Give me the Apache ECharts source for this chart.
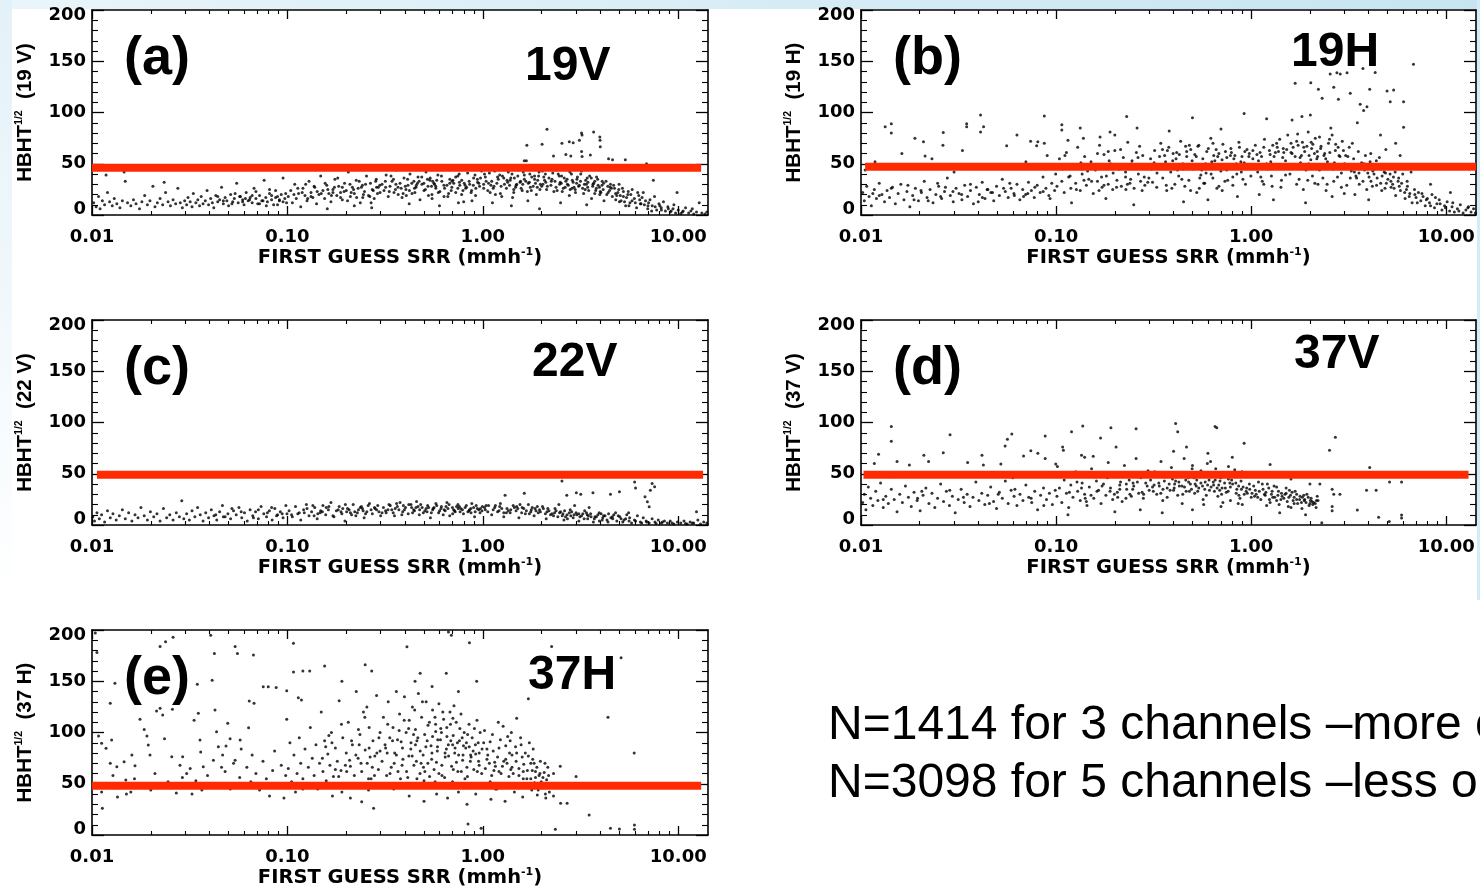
<!DOCTYPE html>
<html><head><meta charset="utf-8">
<script src="https://cdn.jsdelivr.net/npm/echarts@6/dist/echarts.min.js"></script>
<style>html,body{margin:0;padding:0;background:#fff}#c{width:1480px;height:888px}</style>
</head><body><div id="c"></div>
<script>
// ---------------- DATA ----------------
const panelLetters = ['(a)', '(b)', '(c)', '(d)', '(e)'];
const channelNames = ['19V', '19H', '22V', '37V', '37H'];
const yAxisChannels = ['19 V', '19 H', '22 V', '37 V', '37 H'];
const xTickValues = [0.01, 0.1, 1, 10];
const xMinorTickValues = [0.02,0.03,0.04,0.05,0.06,0.07,0.08,0.09,0.2,0.3,0.4,0.5,0.6,0.7,0.8,0.9,2,3,4,5,6,7,8,9];
const thresholdValues = [46, 47, 49, 49, 48];
const thresholdXRanges = [[0.01, 13.1], [0.0105, 14.2], [0.0106, 13.4], [0.0103, 13.0], [0.01, 13.1]];
const notes = ['N=1414 for 3 channels \u2013more c', 'N=3098 for 5 channels \u2013less op'];

const pts19V = [
[0.0102,12],[0.0105,8],[0.0108,18],[0.011,6],[0.0113,14],[0.0116,10],[0.0118,39],[0.012,22],[0.0123,13],[0.0127,9],[0.013,16],[0.0134,11],[0.0139,7],[0.0143,14],[0.0146,42],[0.0148,33],[0.0152,12],[0.0158,9],[0.0163,15],[0.0168,11],[0.0175,6],[0.018,13],[0.0186,19],[0.0192,10],[0.0198,14],[0.0205,28],[0.021,8],[0.0216,12],[0.0223,16],[0.023,10],[0.0234,32],[0.0238,22],[0.0245,13],[0.0252,9],[0.026,15],[0.0268,11],[0.0275,26],[0.0283,12],[0.029,7],[0.0298,14],
[0.0305,10],[0.031,17],[0.0318,13],[0.0325,8],[0.033,21],[0.034,12],[0.0348,15],[0.0355,9],[0.0362,18],[0.037,11],[0.038,14],[0.0388,24],[0.0395,10],[0.0405,16],[0.0413,12],[0.042,7],[0.043,19],[0.044,13],[0.045,15],[0.046,27],[0.047,11],[0.048,17],[0.049,14],[0.05,9],[0.0512,20],[0.0525,13],[0.0535,16],[0.055,31],[0.056,12],[0.0575,18],[0.059,15],[0.06,10],[0.0615,22],[0.063,14],[0.0645,17],[0.066,12],[0.0675,26],[0.069,16],[0.0705,11],[0.072,19],[0.074,14],[0.076,34],[0.0775,17],[0.079,13],[0.081,21],[0.083,15],[0.085,10],[0.087,24],[0.089,18],[0.091,14],[0.093,20],[0.095,36],[0.097,16],[0.099,12],
[0.101,18],[0.104,24],[0.106,12],[0.109,30],[0.111,16],[0.114,21],[0.117,8],[0.12,26],[0.123,19],[0.126,14],[0.129,33],[0.132,22],[0.135,17],[0.138,27],[0.141,11],[0.145,20],[0.148,38],[0.152,24],[0.155,16],[0.159,29],[0.163,21],[0.167,13],[0.171,25],[0.175,35],[0.179,19],[0.183,28],[0.187,22],[0.191,15],[0.196,31],[0.2,24],[0.205,42],[0.21,18],[0.215,27],[0.22,21],[0.225,34],[0.23,26],[0.236,12],[0.242,29],[0.248,23],[0.254,38],[0.26,19],[0.266,31],[0.272,25],[0.278,16],[0.285,35],[0.292,27],[0.298,22],[0.16,6],[0.22,9],[0.27,7],
[0.305,30],[0.312,24],[0.32,39],[0.328,18],[0.335,28],[0.343,33],[0.351,22],[0.36,44],[0.368,27],[0.377,31],[0.386,17],[0.395,36],[0.404,25],[0.414,29],[0.424,40],[0.434,21],[0.444,33],[0.455,27],[0.466,37],[0.477,15],[0.488,30],[0.5,24],[0.512,42],[0.524,28],[0.536,34],[0.549,20],[0.562,31],[0.575,26],[0.589,39],[0.603,23],[0.617,33],[0.632,29],[0.647,45],[0.662,18],[0.678,35],[0.694,27],[0.71,31],[0.727,22],[0.744,38],[0.762,29],[0.78,34],[0.798,13],[0.817,26],[0.836,41],[0.856,30],[0.876,24],[0.897,36],[0.918,19],[0.94,32],[0.962,28],[0.985,43],[0.42,11],[0.6,9],[0.75,12],[0.55,16],[0.88,14],
[1.01,30],[1.03,37],[1.06,24],[1.08,41],[1.11,33],[1.14,28],[1.17,45],[1.2,35],[1.23,21],[1.26,38],[1.29,30],[1.32,26],[1.35,42],[1.38,34],[1.42,17],[1.45,36],[1.48,29],[1.52,44],[1.55,32],[1.59,24],[1.63,39],[1.67,53],[1.71,31],[1.75,27],[1.79,46],[1.84,35],[1.88,20],[1.93,38],[1.97,30],[2.02,43],[2.07,34],[2.12,25],[1.12,12],[1.4,9],[1.7,14],[1.95,6],[2.13,83.6],[1.68,68],[2.01,69],[1.63,53],
[2.18,36],[2.23,29],[2.28,41],[2.34,33],[2.4,24],[2.46,38],[2.52,31],[2.58,45],[2.64,27],[2.7,35],[2.77,19],[2.84,40],[2.9,32],[2.97,25],[3.05,37],[3.12,29],[3.2,43],[3.28,21],[3.36,34],[3.44,27],[3.52,38],[3.6,16],[3.69,31],[3.78,24],[3.87,35],[3.97,20],[4.07,29],[4.17,14],[4.27,33],[4.38,22],[4.49,27],[4.6,18],[2.3,57.6],[2.54,70],[2.66,59],[2.77,71.5],[2.82,57.6],[2.9,70.5],[3.12,73],[3.22,78],[3.2,80],[3.22,57],[3.2,62],[3.55,58.5],[3.69,81],[3.97,76],[3.98,73],[3.99,66.6],[4.4,55],[4.61,54],[2.5,12],[3.4,10],
[4.72,26],[4.85,19],[4.98,30],[5.1,14],[5.24,23],[5.36,54],[5.38,9],[5.52,20],[5.66,12],[5.81,25],[5.96,16],[6.12,7],[6.28,19],[6.45,11],[6.62,22],[6.88,50],[6.8,14],[6.98,6],[7.17,15],[7.36,9],[7.46,34],[7.56,18],[7.76,5],[7.97,11],[8.18,7],[8.4,13],
[8.6,4],[8.85,8],[9.1,3],[9.4,6],[9.7,2],[9.86,22],[10,5],[10.3,1.5],[10.6,4],[10.9,7],[11.3,2],[11.6,4],[12,1],[12.4,3],[12.8,12],[13.2,2],[13.7,1],[14,3],
[0.047,14],[0.083,19],[0.061,16],[0.072,11],[0.054,21],[0.091,15],[0.066,19],[0.078,9],[0.059,13],[0.087,17],[0.044,18],[0.069,23],[0.095,13],[0.052,11],[0.081,25],[0.064,15],[0.098,21],[0.057,18],[0.075,14],[0.089,10],
[0.113,26],[0.187,17],[0.142,23],[0.251,30],[0.168,19],[0.218,25],[0.127,16],[0.289,21],[0.156,31],[0.203,14],[0.233,33],[0.119,22],[0.174,27],[0.264,18],[0.137,28],[0.195,23],[0.297,29],[0.149,21],[0.226,17],[0.181,36],[0.108,20],[0.275,24],[0.161,25],[0.245,20],[0.132,18],[0.209,30],[0.283,33],[0.171,22],[0.239,27],[0.124,30],
[0.318,27],[0.472,33],[0.391,21],[0.655,29],[0.538,36],[0.421,24],[0.803,31],[0.349,35],[0.592,22],[0.703,34],[0.457,29],[0.921,26],[0.369,20],[0.614,38],[0.508,25],[0.851,33],[0.433,31],[0.745,26],[0.332,23],[0.566,30],[0.689,24],[0.973,36],[0.401,28],[0.779,20],[0.487,37],[0.637,26],[0.894,29],[0.359,30],[0.527,19],[0.726,37],[0.449,22],[0.954,31],[0.581,34],[0.412,35],[0.668,21],[0.826,27],[0.546,28],[0.382,26],[0.759,32],[0.499,31],
[1.04,33],[1.47,27],[1.22,39],[1.86,31],[1.63,35],[1.13,26],[2.05,37],[1.34,32],[1.74,40],[1.09,22],[1.56,33],[1.96,25],[1.28,36],[1.41,40],[1.81,28],[1.18,31],[1.69,23],[2.1,32],[1.51,38],[1.37,29],[1.91,34],[1.25,18],[1.6,30],[1.02,40],[1.78,37],[1.44,25],[2.0,28],[1.15,43],
[2.24,33],[3.31,30],[2.61,36],[2.93,27],[3.74,33],[2.47,30],[4.13,25],[2.79,42],[3.48,24],[2.37,27],[3.89,29],[3.16,33],[2.71,30],[4.31,20],[3.03,35],[2.55,23],[3.59,36],[4.02,22],[2.86,26],[3.39,30],[2.43,40],[3.95,27],[2.66,33],[3.24,26],[4.45,24],[3.65,28],[2.98,22],[3.82,37],
[4.91,22],[5.44,17],[4.67,29],[6.03,12],[5.18,26],[5.72,20],[6.35,15],[4.79,15],[5.59,9],[6.71,10],[5.05,19],[6.2,22],[7.05,12],[7.62,8],[5.31,13],[6.53,17],[8.05,9],[7.31,4],[8.9,6],[9.5,10],[10.5,3],[11.8,6],
[0.212,22],[0.286,27],[0.357,25],[0.463,31],[0.574,28],[0.695,33],[0.812,29],[0.938,35],[1.07,31],[1.19,37],[1.33,34],[1.49,30],[1.66,33],[1.84,38],[2.03,30],[2.26,35],[2.49,32],[2.74,29],[3.02,31],[3.34,25],[3.66,30],[3.99,23],[4.36,28],[4.78,21],[5.24,18],[0.243,17],[0.317,33],[0.406,19],[0.521,35],[0.633,18],[0.757,40],[0.871,22],[1.01,26],[1.16,20],[1.29,45],[1.44,22],[1.61,42],[1.77,24],[1.94,42],[2.14,28],[2.36,44],[2.58,26],[2.87,34],[3.17,40],[3.45,32],[3.81,26],[4.15,31],[4.55,26],[4.96,25],[5.55,23],[0.191,27],[0.268,12],[0.339,38],[0.447,26],[0.554,33],[0.677,31],[0.791,24],[0.912,39],[1.1,29],[1.24,28],[1.39,36],[1.57,26],[1.73,32],[1.9,27],[2.09,40],[2.31,23],[2.53,38],[2.8,25],[3.09,28],[3.42,36],[3.74,21],[4.08,33],[4.5,30],[5.0,13],[5.8,14],[6.4,11],[7.0,9],[8.2,5],[9.2,4]
];

const pts19H = [
[0.0102,22],[0.0104,14],[0.0107,28],[0.011,18],[0.0113,9],[0.0117,25],[0.012,16],[0.0124,31],[0.0128,20],[0.0132,13],[0.0136,24],[0.014,17],[0.0145,27],[0.015,11],[0.0155,21],[0.016,30],[0.0166,15],[0.0172,23],[0.0178,8],[0.0184,19],[0.019,26],[0.0197,14],[0.0204,22],[0.0211,33],[0.0218,17],[0.0226,25],[0.0234,12],[0.0242,20],[0.025,28],[0.0259,16],[0.0268,23],[0.0277,36],[0.0287,19],[0.0297,13],[0.0307,26],[0.0318,21],[0.0329,15],[0.034,29],[0.0352,18],[0.0364,24],[0.0377,11],[0.039,27],[0.0404,20],[0.0418,32],[0.0432,16],[0.0447,25],[0.0463,22],[0.0479,14],[0.0495,28],[0.0512,19],[0.053,35],[0.0549,23],[0.0568,17],[0.0588,26],[0.0608,21],[0.063,30],[0.0652,15],[0.0674,25],[0.0698,20],[0.0722,32],[0.0747,24],[0.0773,17],[0.08,29],[0.0828,22],[0.0857,37],[0.0887,26],[0.0918,19],[0.095,31],[0.0983,24],[0.0995,40],
[0.0133,86],[0.0143,89],[0.0143,80],[0.0162,60],[0.0189,75],[0.0209,71.5],[0.0213,57.6],[0.0231,55],[0.0264,80.6],[0.0263,68],[0.0331,63],[0.0348,89],[0.0348,86],[0.041,97.5],[0.041,81],[0.0425,86],[0.0558,67.6],[0.063,78],[0.074,72],[0.0795,67.6],[0.0806,71.5],[0.087,96.6],[0.087,70],[0.107,88],[0.107,83],[0.133,85],[0.138,75],[0.168,76],[0.189,81],[0.0105,44],[0.03,42],[0.05,47],[0.07,52],[0.09,58],[0.0118,52],
[0.101,28],[0.104,55],[0.107,33],[0.11,22],[0.113,61],[0.116,37],[0.119,26],[0.122,48],[0.126,31],[0.129,66],[0.133,24],[0.136,40],[0.14,57],[0.143,29],[0.147,35],[0.151,52],[0.155,21],[0.159,44],[0.163,33],[0.167,68],[0.172,27],[0.176,59],[0.181,38],[0.185,30],[0.19,50],[0.195,25],[0.2,63],[0.205,34],[0.21,45],[0.216,28],[0.221,56],[0.227,37],[0.233,71],[0.239,31],[0.245,53],[0.251,26],[0.258,61],[0.264,40],[0.271,33],[0.278,58],[0.285,29],[0.292,47],[0.299,36],[0.12,12],[0.18,16],[0.25,10],[0.115,73],[0.2,78],[0.26,85],[0.23,96],
[0.305,55],[0.312,32],[0.32,63],[0.328,27],[0.336,48],[0.344,70],[0.352,36],[0.36,58],[0.369,24],[0.378,66],[0.387,42],[0.396,53],[0.406,30],[0.415,61],[0.425,38],[0.435,72],[0.446,50],[0.457,28],[0.467,57],[0.479,34],[0.49,64],[0.502,45],[0.514,59],[0.526,22],[0.539,68],[0.552,39],[0.565,55],[0.578,31],[0.592,62],[0.606,47],[0.621,75],[0.636,36],[0.651,53],[0.667,26],[0.683,60],[0.699,43],[0.716,69],[0.733,33],[0.75,56],[0.768,49],[0.787,65],[0.805,29],[0.825,58],[0.844,40],[0.865,71],[0.885,52],[0.907,35],[0.928,62],[0.95,46],[0.973,57],[0.996,38],[0.5,95],[0.92,99],[0.38,82],[0.7,84],[0.6,15],[0.85,18],[0.45,13],
[1.02,55],[1.05,68],[1.08,42],[1.11,61],[1.14,33],[1.17,74],[1.2,94],[1.2,50],[1.24,63],[1.27,38],[1.31,57],[1.35,70],[1.38,46],[1.42,27],[1.46,65],[1.5,53],[1.54,78],[1.58,40],[1.62,92.7],[1.62,60],[1.67,48],[1.71,72],[1.76,35],[1.82,96],[1.81,58],[1.86,66],[1.91,44],[1.96,81],[2.01,97.6],[2.02,54],[2.07,69],[2.12,31],[2.18,62],[2.24,76],[2.3,49],[2.36,58],[2.42,24],[2.49,70],[2.56,85],[2.63,45],[2.7,63],[2.77,37],[2.85,57],[2.93,72],[3.01,50],[3.09,29],[3.18,66],[3.26,43],[1.68,128.5],[2.02,129],[2.21,122.6],[2.31,114],[2.54,137.6],[2.65,124.6],[2.75,138.8],[2.8,113],[2.86,137.6],[3.1,138.8],[3.22,118.7],[1.3,15],[1.9,12],[2.6,18],[1.1,20],[2.2,30],[3.0,21],
[3.35,55],[3.44,38],[3.54,62],[3.62,108],[3.64,47],[3.74,143],[3.74,33],[3.77,102],[3.85,58],[3.92,105.6],[3.96,41],[4.05,122.6],[4.07,52],[4.18,28],[4.3,45],[4.32,139],[4.42,36],[4.54,56],[4.67,24],[4.8,42],[4.93,31],[4.97,121],[5.07,48],[5.16,110.5],[5.21,27],[5.37,122],[5.36,37],[5.5,19],[5.66,33],[5.82,24],[5.98,40],[6.04,110.5],[6.04,85.5],[6.15,16],[6.32,28],[6.5,21],[6.68,12],[6.79,147],[6.87,25],[7.0,17],[3.5,90],[4.6,78],[5.5,70],[3.4,20],[4.0,15],[4.9,64],[5.8,58],[6.6,42],
[7.2,22],[7.4,14],[7.6,18],[7.8,9],[8.0,16],[8.2,12],[8.45,20],[8.7,7],[8.95,11],[9.2,15],[9.5,5],[9.8,9],[10.1,13],[10.4,4],[10.7,8],[11.0,3],[11.4,6],[11.8,10],[12.2,2],[12.6,5],[13.0,8],[13.4,3],[13.8,6],[14.1,2],[8.3,30],[10.5,22],
[0.0115,21],[0.0187,15],[0.0143,26],[0.0256,18],[0.0203,24],[0.0328,20],[0.0174,29],[0.0419,17],[0.0296,23],[0.0538,26],[0.0221,14],[0.0364,30],[0.0611,19],[0.0472,22],[0.0778,27],[0.0399,13],[0.0681,18],[0.0858,23],[0.0579,31],[0.0931,16],[0.0124,19],[0.0271,27],[0.0443,25],[0.0716,21],[0.0247,31],
[0.108,45],[0.176,29],[0.134,51],[0.227,42],[0.152,33],[0.263,56],[0.118,38],[0.204,27],[0.291,49],[0.163,60],[0.241,35],[0.127,25],[0.187,53],[0.276,24],[0.145,43],[0.214,64],[0.253,46],[0.171,37],[0.111,58],[0.232,30],[0.196,41],[0.283,37],[0.139,34],[0.268,67],[0.158,48],
[0.318,51],[0.467,62],[0.386,46],[0.643,58],[0.533,67],[0.412,55],[0.792,61],[0.351,64],[0.584,50],[0.709,54],[0.449,45],[0.897,57],[0.364,52],[0.603,65],[0.498,53],[0.838,50],[0.428,59],[0.738,62],[0.329,41],[0.558,44],[0.674,57],[0.952,64],[0.398,60],[0.771,46],[0.482,68],[0.628,52],[0.871,66],[0.339,57],[0.521,48],[0.716,49],[0.441,35],[0.571,31],[0.683,28],[0.805,37],[0.367,29],[0.489,24],[0.623,40],[0.935,30],[0.758,34],[0.542,26],
[1.07,59],[1.52,64],[1.26,52],[1.93,67],[1.68,57],[1.16,66],[2.11,60],[1.4,74],[1.79,51],[1.04,48],[1.6,70],[2.03,71],[1.33,61],[1.45,56],[1.88,62],[1.22,45],[1.74,68],[2.17,55],[1.56,49],[1.36,66],[1.98,58],[2.27,65],[2.46,52],[2.71,69],[2.38,60],[2.59,47],[2.82,58],[2.97,63],[2.52,74],[3.13,57],[2.24,44],[1.12,37],[1.43,34],[1.71,30],[2.06,38],[2.33,36],[2.65,33],[2.9,41],[1.28,28],[1.85,25],
[3.29,49],[3.81,44],[3.47,36],[4.26,40],[3.68,51],[4.11,33],[4.69,38],[3.58,30],[5.02,35],[4.47,47],[3.91,25],[5.31,30],[4.85,26],[5.74,28],[4.38,53],[6.12,22],[5.47,42],[6.46,18],[3.38,42],[4.02,37],[4.61,31],[5.15,40],[5.9,31],[6.3,33],[6.9,20],
[7.1,12],[7.5,21],[7.9,15],[8.3,9],[8.8,17],[9.3,11],[9.9,7],[10.8,12],[11.6,4],[12.9,7],
[0.372,63],[0.523,57],[0.661,64],[0.815,55],[0.978,60],[1.13,57],[1.29,68],[1.47,61],[1.64,66],[1.83,71],[2.04,65],[2.28,67],[2.53,61],[2.79,66],[3.05,58],[3.4,48],[3.79,50],[4.2,43],[4.65,45],[5.2,33],[5.7,36],[6.25,25],[0.419,44],[0.587,41],[0.749,44],[0.921,51],[1.09,53],[1.25,59],[1.43,49],[1.6,61],[1.78,56],[1.97,50],[2.19,57],[2.41,55],[2.67,51],[2.96,49],[3.22,36],[3.57,41],[3.98,47],[4.39,29],[4.88,41],[5.4,26],[0.135,45],[0.185,62],[0.244,50],[0.308,45],[0.461,67],[0.637,70],[0.783,58],[1.02,63],[1.38,62],[1.73,79],[2.13,75],[2.6,78],[3.3,70],[4.1,60],[0.166,24],[0.228,25],[0.295,32],[0.392,26],[0.545,36],[0.71,24],[0.89,42],[1.16,30],[1.5,39],[1.95,34],[2.45,30],[2.9,27]
];

const pts22V = [
[0.0101,8],[0.0103,4],[0.0106,12],[0.0109,6],[0.0112,10],[0.0116,3],[0.012,14],[0.0124,7],[0.0128,11],[0.0133,5],[0.0138,9],[0.0143,15],[0.0148,6],[0.0154,12],[0.016,4],[0.0166,10],[0.0172,7],[0.0178,17],[0.0185,9],[0.0192,5],[0.0199,13],[0.0207,8],[0.0215,11],[0.0223,4],[0.0232,16],[0.0241,7],[0.025,10],[0.026,5],[0.027,12],[0.028,8],[0.0288,23.7],[0.0295,6],
[0.0305,11],[0.0315,5],[0.0325,14],[0.0336,8],[0.0347,17],[0.0358,10],[0.037,4],[0.0382,12],[0.0395,7],[0.0408,15],[0.0421,9],[0.0435,5],[0.045,13],[0.0465,19],[0.048,8],[0.0496,11],[0.0512,6],[0.053,14],[0.0547,10],[0.0565,17],[0.0584,7],[0.0603,12],[0.0623,4],[0.0644,15],[0.0665,9],[0.0687,13],[0.071,6],[0.0733,18],[0.0757,11],[0.0782,8],[0.0808,14],[0.0835,5],[0.0862,16],[0.0891,10],[0.092,13],[0.095,7],[0.0982,19],[0.0995,11],
[0.102,14],[0.106,8],[0.11,18],[0.113,11],[0.117,5],[0.121,15],[0.125,20],[0.129,9],[0.133,13],[0.138,17],[0.142,6],[0.147,12],[0.152,19],[0.157,10],[0.162,15],[0.167,22],[0.173,8],[0.178,14],[0.184,18],[0.19,11],[0.197,4],[0.203,16],[0.21,12],[0.217,20],[0.224,9],[0.231,15],[0.239,18],[0.247,7],[0.255,13],[0.263,21],[0.272,11],[0.281,16],[0.29,19],[0.3,9],
[0.31,17],[0.32,12],[0.331,20],[0.342,15],[0.353,9],[0.365,18],[0.377,22],[0.389,13],[0.402,17],[0.415,11],[0.429,20],[0.443,15],[0.458,23],[0.473,10],[0.489,17],[0.505,14],[0.522,19],[0.539,7],[0.557,16],[0.575,21],[0.594,12],[0.614,18],[0.634,15],[0.655,22],[0.677,9],[0.699,17],[0.722,13],[0.746,20],[0.771,16],[0.796,11],[0.823,19],[0.85,14],[0.878,21],[0.907,8],[0.937,16],[0.968,12],[0.995,18],
[1.03,15],[1.07,19],[1.11,10],[1.15,17],[1.19,13],[1.23,21],[1.28,8],[1.3,29],[1.33,16],[1.38,12],[1.43,19],[1.48,14],[1.53,7],[1.59,17],[1.63,31],[1.65,11],[1.71,20],[1.77,15],[1.83,9],[1.9,18],[1.97,13],[2.04,16],[2.11,6],[2.18,14],
[2.26,11],[2.34,16],[2.42,8],[2.5,13],[2.54,43],[2.6,5],[2.69,29],[2.7,10],[2.8,15],[2.9,7],[3.0,12],[3.01,31.5],[3.1,4],[3.17,30],[3.2,9],[3.32,14],[3.44,6],[3.56,11],[3.66,31.5],[3.68,3],[3.81,8],[3.94,12],[4.08,5],[4.22,9],[4.37,3],[4.5,30],[4.52,7],[2.45,20],[2.95,19],[3.5,17],
[4.68,10],[4.85,4],[5.0,32.5],[5.02,8],[5.2,3],[5.38,6],[5.57,12],[5.77,2],[5.98,42],[6.05,36],[5.97,5],[6.18,9],[6.4,3],[6.62,7],[6.76,27.6],[6.85,4],[6.95,22.8],[7.1,17.9],[7.2,34],[7.35,40.6],[7.57,37.4],[7.1,2],[7.35,6],[7.6,3],[7.9,5],[8.2,2],[8.5,4],
[8.8,2],[9.1,4],[9.5,1],[9.9,3],[10.3,2],[10.7,4],[11.1,1],[11.5,3],[12.0,2],[12.4,13],[12.6,5],[13.0,1],[13.5,3],[14.0,2],
[0.043,10],[0.067,7],[0.052,16],[0.079,12],[0.088,9],[0.058,13],[0.071,15],[0.094,11],[0.047,8],[0.083,17],
[0.115,12],[0.182,15],[0.137,9],[0.244,14],[0.163,18],[0.213,10],[0.126,16],[0.279,17],[0.151,13],[0.198,20],[0.228,12],[0.171,9],[0.259,19],[0.135,19],[0.207,15],[0.294,13],[0.143,11],[0.236,17],[0.188,13],[0.268,15],
[0.327,15],[0.466,18],[0.385,10],[0.642,14],[0.528,17],[0.418,20],[0.786,15],[0.348,12],[0.581,19],[0.701,11],[0.447,14],[0.897,17],[0.362,21],[0.611,16],[0.496,12],[0.839,13],[0.432,17],[0.734,18],[0.336,19],[0.554,15],[0.672,20],[0.953,15],[0.397,15],[0.765,13],[0.481,20],[0.627,10],[0.868,16],[0.513,16],[0.709,15],[0.925,19],
[1.06,13],[1.51,16],[1.25,16],[1.92,12],[1.67,14],[1.16,19],[2.09,11],[1.39,15],[1.79,17],[1.02,17],[1.58,12],[2.02,18],[1.32,12],[1.45,17],[1.87,14],[1.21,14],[1.73,11],[2.15,16],
[2.3,9],[3.25,11],[2.62,14],[2.93,10],[3.72,6],[2.47,12],[4.11,7],[2.77,12],[3.47,9],[2.37,14],[3.88,10],[3.14,8],[2.71,6],[4.32,5],[3.03,10],[2.55,9],[3.58,8],[4.03,11],[2.85,13],[3.39,12],[4.62,6],[4.93,9],[5.28,5],[5.64,7],[6.05,4],[6.5,2],[5.45,10],[4.78,12],[6.9,3],[7.7,1.5],[8.3,3],[9.3,2],[10.9,1.5],[11.8,2],
[0.105,10],[0.148,14],[0.192,16],[0.221,13],[0.251,11],[0.286,15],[0.318,14],[0.356,16],[0.392,19],[0.437,12],[0.475,15],[0.518,13],[0.563,17],[0.601,14],[0.663,16],[0.717,14],[0.758,18],[0.812,17],[0.855,15],[0.914,13],[0.972,16],[1.04,19],[1.13,15],[1.22,18],[1.35,14],[1.49,18],[1.62,16],[1.76,13],[1.95,15],[2.13,13],[2.33,12],[2.57,11],[2.82,9],[3.1,11],[3.42,10],[3.75,8],[4.15,9],[4.6,8],[5.1,6],[5.6,4],[0.122,12],[0.158,17],[0.201,13],[0.242,16],[0.305,12],[0.372,15],[0.455,17],[0.545,12],[0.648,18],[0.748,16],[0.87,12],[0.99,14],[1.28,12],[1.55,20],[1.85,16],[2.22,10],[2.65,8],[3.3,6],[3.95,4],[4.4,11]
];

const pts37V = [
[0.0102,22],[0.0104,30],[0.0106,15],[0.0109,37],[0.0112,26],[0.0115,19],[0.0119,33],[0.0122,24],[0.0126,41],[0.013,17],[0.0134,28],[0.0138,21],[0.0143,35],[0.0148,25],[0.0153,13],[0.0158,30],[0.0163,22],[0.0169,38],[0.0175,27],[0.0181,18],[0.0187,32],[0.0194,24],[0.0201,14],[0.0208,29],[0.0215,36],[0.0223,21],[0.0231,31],[0.0239,17],[0.0247,26],[0.0256,40],[0.0265,23],[0.0274,33],[0.0284,19],[0.0294,28],[0.0304,12],[0.0315,25],[0.0326,35],[0.0338,22],[0.035,30],[0.0362,18],[0.0375,27],[0.0388,42],[0.0402,24],[0.0416,31],[0.0431,20],[0.0446,29],[0.0462,37],[0.0478,23],[0.0495,16],[0.0512,32],[0.053,26],[0.0549,43],[0.0568,21],[0.0588,34],[0.0609,28],[0.063,19],[0.0653,30],[0.0676,24],[0.07,39],[0.0724,27],[0.075,22],[0.0777,33],[0.0804,15],[0.0833,29],[0.0862,36],[0.0893,25],[0.0924,31],[0.0957,20],[0.099,34],
[0.0143,96],[0.0143,81.6],[0.0123,69],[0.0117,60],[0.0153,62],[0.0177,58.5],[0.021,68],[0.0222,62],[0.0264,70.5],[0.0286,88],[0.0352,61],[0.0417,68],[0.0424,58.5],[0.0521,59.5],[0.0548,77],[0.0563,83.6],[0.0593,88.8],[0.0681,67.3],[0.0742,72.5],[0.0806,70],[0.0879,86.8],[0.0879,65],[0.0996,59.5],[0.1016,57],[0.108,76],[0.109,73],[0.12,91],[0.137,96.6],[0.14,66],[0.135,68],[0.155,67],[0.169,85],[0.191,95],[0.203,76],[0.015,47],[0.03,48],[0.06,46],[0.09,49],
[0.101,28],[0.104,36],[0.107,22],[0.11,44],[0.113,31],[0.116,17],[0.119,39],[0.122,27],[0.126,52],[0.129,33],[0.133,24],[0.136,41],[0.14,30],[0.144,19],[0.148,37],[0.152,55],[0.156,26],[0.161,43],[0.165,34],[0.17,21],[0.175,40],[0.18,29],[0.185,61],[0.19,36],[0.195,25],[0.2,47],[0.206,32],[0.212,39],[0.218,23],[0.224,58],[0.23,35],[0.237,44],[0.243,28],[0.25,38],[0.257,65],[0.265,31],[0.272,46],[0.28,26],[0.288,41],[0.296,53],[0.3,34],[0.115,10],[0.2,13],[0.27,15],
[0.305,44],[0.312,37],[0.32,52],[0.328,30],[0.336,41],[0.345,62],[0.353,35],[0.362,47],[0.371,27],[0.38,40],[0.39,56],[0.4,34],[0.41,99],[0.41,43],[0.42,91],[0.42,29],[0.431,50],[0.442,38],[0.453,65],[0.464,33],[0.466,76],[0.476,46],[0.488,40],[0.5,58],[0.513,31],[0.526,44],[0.539,36],[0.553,53],[0.567,25],[0.581,42],[0.596,60],[0.611,34],[0.626,47],[0.642,39],[0.653,96],[0.666,95],[0.658,55],[0.675,28],[0.692,43],[0.709,36],[0.727,51],[0.745,32],[0.764,45],[0.783,24],[0.803,40],[0.823,54],[0.844,35],[0.865,29],[0.887,43],[0.909,37],[0.92,79.7],[0.932,48],[0.955,31],[0.979,40],[1.0,27],[0.257,94],[0.35,12],[0.5,15],[0.7,18],[0.9,20],[0.6,70],[0.8,66],[0.4,72],
[1.03,38],[1.06,30],[1.09,42],[1.12,25],[1.15,35],[1.18,29],[1.21,40],[1.25,22],[1.28,33],[1.32,27],[1.35,37],[1.39,20],[1.43,31],[1.47,26],[1.51,36],[1.55,18],[1.59,29],[1.64,24],[1.68,33],[1.73,21],[1.78,28],[1.82,16],[1.88,25],[1.93,30],[1.98,19],[2.03,26],[2.09,22],[2.15,17],[2.2,24],[1.1,48],[1.3,50],[1.6,45],[1.4,12],[1.9,10],[2.0,40],[1.25,59],
[2.25,40],[2.6,35],[2.65,30],[2.85,30],[2.7,85.5],[2.52,73],[4.05,56],[5.12,42],[5.9,42],[3.9,34],[4.37,34],[3.5,14.6],[4.5,7.5],[5.1,3.3],[5.9,9.7],[5.9,6.8],[2.3,2.3],[2.6,18],[2.6,14],
[0.013,25],[0.0205,33],[0.0335,27],[0.0455,21],[0.0615,35],[0.0745,26],[0.0865,19],[0.0195,26],[0.0285,34],[0.0505,30],
[0.117,32],[0.183,46],[0.141,26],[0.247,35],[0.162,33],[0.214,42],[0.128,42],[0.276,32],[0.151,29],[0.199,30],[0.229,40],[0.172,38],[0.261,42],[0.135,36],[0.207,27],[0.293,38],[0.143,23],[0.239,30],[0.189,33],[0.268,48],
[0.318,39],[0.462,44],[0.384,34],[0.639,42],[0.523,38],[0.417,47],[0.782,37],[0.344,31],[0.578,35],[0.698,46],[0.446,30],[0.891,35],[0.359,43],[0.608,44],[0.494,35],[0.834,41],[0.428,38],[0.731,41],[0.334,48],[0.552,41],[0.669,36],[0.948,36],[0.395,45],[0.762,33],[0.478,42],[0.623,37],[0.862,38],[0.509,46],[0.705,30],[0.921,30],[0.371,36],[0.589,29],[0.547,48],[0.654,44],[0.455,37],[0.532,33],[0.682,39],[0.794,44],[0.405,40],[0.615,50],
[1.05,34],[1.49,30],[1.23,36],[1.91,22],[1.66,27],[1.14,40],[2.07,20],[1.38,33],[1.77,25],[1.01,31],[1.57,34],[2.01,24],[1.31,38],[1.44,28],[1.86,29],[1.19,32],[1.71,30],[2.13,21],[1.08,27],[1.53,23],[1.27,30],[1.96,27],[1.62,32],[2.18,28],[1.35,24],[1.81,22],
[0.315,33],[0.403,36],[0.482,33],[0.563,38],[0.648,33],[0.737,36],[0.838,31],[0.942,33],[1.04,28],[1.17,30],[1.29,27],[1.42,25],[1.56,27],[1.71,25],[1.87,24],[2.05,23],[0.338,38],[0.426,42],[0.516,40],[0.598,39],[0.689,34],[0.777,41],[0.876,26],[0.983,35],[1.1,33],[1.24,25],[1.37,29],[1.51,31],[1.66,21],[1.83,27],[2.0,21],[2.16,24],[0.212,35],[0.248,41],[0.281,30],[0.367,50],[0.498,55],[0.619,62],[0.765,57],[0.897,52],[0.228,26],[0.352,24],[0.443,21],[0.571,20],[0.716,22],[0.858,21],[1.2,19],[1.6,17]
];

const pts37H = [
[0.0104,197],[0.0106,178],[0.0108,96.6],[0.0112,89.5],[0.0112,42],[0.0113,26],[0.0118,84.6],[0.0124,128.5],[0.0126,92.7],[0.0131,148],[0.0124,70],[0.0134,66.6],[0.0146,71.5],[0.0149,53.7],[0.016,78],[0.0158,42],[0.0166,67.6],[0.0176,113],[0.0185,103],[0.0191,96.6],[0.0194,87.8],[0.0198,78],[0.0214,121],[0.0223,123.6],[0.023,117],[0.0223,184],[0.0238,188.6],[0.0235,94],[0.026,193],[0.0258,122.6],[0.0256,76.4],[0.0282,68],[0.0291,76.4],[0.0305,60],[0.0318,65],[0.0333,112],[0.0346,147],[0.035,118.7],[0.0357,92.7],[0.036,81],[0.0371,66.6],[0.0405,195],[0.0423,177],[0.0412,151],[0.0426,122],[0.0434,100.8],[0.0443,86],[0.0418,73],[0.0466,78],[0.0485,86.8],[0.0495,109],[0.0509,94],[0.054,184],[0.0555,177],[0.0573,92.7],[0.054,73],[0.0638,130.7],[0.0633,104.7],[0.0675,128.5],[0.067,175.6],[0.0752,144.7],[0.0798,144.7],[0.0876,144],[0.0992,140.8],[0.0992,113],[0.1074,187],[0.1074,159],[0.1137,134],[0.118,131.7],
[0.0128,58],[0.0137,46],[0.015,40],[0.0165,55],[0.0182,48],[0.02,44],[0.021,60],[0.0245,52],[0.027,41],[0.029,56],[0.0315,47],[0.034,53],[0.0365,44],[0.039,58],[0.045,50],[0.048,62],[0.051,45],[0.053,70],[0.057,56],[0.06,48],[0.062,66],[0.065,52],[0.069,60],[0.072,44],[0.075,72],[0.078,55],[0.081,38],[0.084,63],[0.086,82],[0.09,50],[0.093,68],[0.096,36],[0.098,58],[0.058,84],[0.066,78],[0.046,66],[0.0325,40],[0.0135,37],
[0.101,65],[0.103,90],[0.105,52],[0.108,78],[0.11,42],[0.112,60],[0.115,95],[0.117,70],[0.12,55],[0.123,84],[0.126,48],[0.128,66],[0.131,105],[0.134,75],[0.137,58],[0.14,88],[0.143,45],[0.146,70],[0.149,120],[0.152,62],[0.155,92],[0.158,53],[0.161,79],[0.165,68],[0.168,100],[0.172,57],[0.176,85],[0.18,72],[0.184,131],[0.188,63],[0.192,95],[0.196,50],[0.2,80],[0.205,110],[0.21,67],[0.215,88],[0.22,58],[0.225,140],[0.23,75],[0.235,98],[0.24,62],[0.245,120],[0.25,83],[0.256,70],[0.262,105],[0.268,55],[0.274,92],[0.28,77],[0.286,136],[0.292,64],[0.298,100],[0.13,160],[0.155,165],[0.19,150],[0.24,32.5],[0.276,26],[0.17,38],[0.21,36],[0.26,44],[0.12,160],[0.25,166],[0.27,160],
[0.305,72],[0.31,115],[0.316,88],[0.322,58],[0.328,130],[0.334,95],[0.34,66],[0.347,105],[0.354,80],[0.361,140],[0.368,62],[0.375,118],[0.382,91],[0.39,74],[0.397,135],[0.405,100],[0.409,183.7],[0.413,56],[0.42,112],[0.428,84],[0.436,125],[0.444,68],[0.452,103],[0.46,92],[0.468,138],[0.478,157.7],[0.477,60],[0.486,115],[0.495,78],[0.504,98],[0.513,130],[0.523,70],[0.533,110],[0.543,87],[0.553,122],[0.563,64],[0.574,101],[0.585,82],[0.596,128],[0.607,93],[0.618,58],[0.63,113],[0.642,76],[0.65,157.7],[0.654,105],[0.667,198],[0.666,88],[0.679,120],[0.69,195],[0.692,67],[0.705,97],[0.718,80],[0.731,110],[0.745,62],[0.759,92],[0.773,118],[0.788,73],[0.803,100],[0.818,85],[0.834,57],[0.85,108],[0.854,187.6],[0.866,78],[0.882,95],[0.899,64],[0.916,88],[0.93,150],[0.933,112],[0.951,72],[0.969,100],[0.987,60],[0.84,10.7],[0.98,6.5],[0.35,45],[0.42,38],[0.5,33],[0.58,40],[0.66,36],[0.75,42],[0.83,30],[0.92,40],[0.45,150],[0.55,145],[0.75,140],[0.6,48],[0.7,52],[0.8,46],[0.9,50],[0.4,50],[0.5,53],
[1.01,90],[1.03,65],[1.06,78],[1.09,52],[1.12,98],[1.15,71],[1.18,45],[1.21,85],[1.24,60],[1.27,106],[1.31,74],[1.34,50],[1.38,92],[1.41,66],[1.45,42],[1.49,114],[1.49,80],[1.53,58],[1.57,88],[1.62,69],[1.66,48],[1.71,133],[1.71,77],[1.76,55],[1.81,84],[1.86,62],[1.92,44],[1.97,72],[2.03,56],[2.09,40],[2.15,66],[2.21,48],[2.25,184],[2.3,38],[2.35,5.5],[1.1,35],[1.3,33],[1.6,37],[1.9,39],[2.1,36],[2.3,60],[1.4,100],[1.2,110],
[2.49,67],[3.0,57],[2.5,31],[2.7,31],[3.5,19.5],[4.37,115],[5.1,173],[5.95,80],[4.5,6.5],[5.0,5.9],[5.97,9.8],[5.97,5.6],
[0.151,75],[0.213,92],[0.176,64],[0.262,85],[0.189,108],[0.238,70],[0.163,97],[0.287,80],[0.201,62],[0.249,115],[0.224,78],[0.272,66],[0.157,86],[0.294,95],[0.183,57],[0.231,103],[0.208,73],[0.279,58],[0.169,90],[0.255,125],
[0.318,85],[0.465,95],[0.386,68],[0.641,80],[0.524,107],[0.418,77],[0.784,95],[0.345,92],[0.579,71],[0.701,88],[0.448,122],[0.892,82],[0.361,78],[0.609,104],[0.497,66],[0.836,98],[0.429,90],[0.733,71],[0.335,60],[0.553,96],[0.668,77],[0.947,90],[0.396,112],[0.763,104],[0.478,82],[0.624,120],[0.863,72],[0.511,86],[0.706,64],[0.919,79],[0.373,102],[0.588,93],[0.547,74],[0.655,96],[0.457,72],[0.534,57],[0.683,108],[0.796,87],[0.407,62],[0.617,68],[0.326,108],[0.442,98],[0.569,115],[0.712,126],[0.829,66],[0.379,55],[0.491,130],[0.596,60],[0.741,90],[0.958,80],
[1.05,84],[1.48,72],[1.23,93],[1.89,66],[1.65,80],[1.14,63],[2.06,61],[1.37,80],[1.76,70],[1.02,102],[1.56,95],[1.99,52],[1.31,87],[1.43,60],[1.84,51],[1.19,76],[1.69,63],[2.12,54],[1.08,70],[1.52,46],[1.26,67],[1.94,58],[1.61,55],[2.19,42],[1.34,96],[1.8,74],[2.27,50],[1.11,58],[1.41,78],[1.73,90],
[0.12,45],[0.19,42],[0.26,55],[0.34,50],[0.46,55],[0.57,52],[0.69,46],[0.81,55],[1.16,45],[1.46,48],[1.78,44],[2.02,46],
[0.324,80],[0.388,85],[0.452,88],[0.519,92],[0.586,86],[0.651,84],[0.721,85],[0.792,78],[0.871,76],[0.958,68],[1.05,74],[1.16,67],[1.28,72],[1.39,64],[1.53,65],[1.68,55],[1.86,56],[2.04,49],[0.352,70],[0.417,104],[0.483,70],[0.549,80],[0.614,100],[0.686,92],[0.752,78],[0.824,90],[0.906,104],[0.991,84],[1.09,91],[1.21,62],[1.33,70],[1.47,86],[1.61,62],[1.79,63],[1.96,60],[2.17,58],[0.198,68],[0.233,88],[0.265,76],[0.298,82],[0.366,93],[0.435,77],[0.505,62],[0.573,108],[0.637,56],[0.703,114],[0.776,62],[0.852,86],[0.937,62],[1.13,82],[1.36,57],[1.59,76],[1.83,70],[2.08,70]
];

const panelPoints = [pts19V, pts19H, pts22V, pts37V, pts37H];

// ---------------- LAYOUT ----------------
const GRIDS = [
  {left: 92,  top: 10,  width: 616, height: 205},
  {left: 861, top: 10,  width: 615, height: 205},
  {left: 92,  top: 320, width: 616, height: 205},
  {left: 861, top: 320, width: 615, height: 205},
  {left: 92,  top: 630, width: 616, height: 205}
];
const CHAN_OFF = [[433, 57], [430, 43], [440, 43], [433, 35], [436, 46]];
const XMIN = 0.01, XMAX = 14.2;
const AX = '#000';
const tickFont = {fontFamily: 'DejaVu Sans', fontWeight: 'bold', fontSize: 18, color: '#000'};

const xAxes = [], yAxes = [], series = [], graphics = [];
GRIDS.forEach((g, i) => {
  const base = {type: 'log', logBase: 10, gridIndex: i, min: XMIN, max: XMAX, splitLine: {show: false}, minorSplitLine: {show: false}};
  xAxes.push(Object.assign({}, base, {
    position: 'bottom',
    axisLine: {show: true, onZero: false, lineStyle: {color: AX, width: 1.6}},
    axisTick: {show: true, inside: true, length: 9, customValues: xTickValues, lineStyle: {color: AX, width: 1.3}},
    axisLabel: Object.assign({show: true, margin: 13, customValues: [0.0100001, 0.1, 1, 10], formatter: v => (+v).toFixed(2)}, tickFont),
    name: '{m|FIRST GUESS SRR (mmh}{s|-1}{m|)}', nameLocation: 'middle', nameGap: 29,
    nameTextStyle: {rich: {
      m: {fontFamily: 'DejaVu Sans', fontWeight: 'bold', fontSize: 19.5, lineHeight: 22, color: '#000'},
      s: {fontFamily: 'DejaVu Sans', fontWeight: 'bold', fontSize: 11, lineHeight: 11, verticalAlign: 'top', color: '#000'}
    }}
  }));
  xAxes.push(Object.assign({}, base, {
    position: 'bottom', axisLine: {show: false, onZero: false},
    axisTick: {show: true, inside: true, length: 4, customValues: xMinorTickValues, lineStyle: {color: AX, width: 1.1}},
    axisLabel: {show: false}
  }));
  xAxes.push(Object.assign({}, base, {
    position: 'top',
    axisLine: {show: true, onZero: false, lineStyle: {color: AX, width: 1.6}},
    axisTick: {show: true, inside: true, length: 9, customValues: xTickValues, lineStyle: {color: AX, width: 1.3}},
    axisLabel: {show: false}
  }));
  xAxes.push(Object.assign({}, base, {
    position: 'top', axisLine: {show: false, onZero: false},
    axisTick: {show: true, inside: true, length: 4, customValues: xMinorTickValues, lineStyle: {color: AX, width: 1.1}},
    axisLabel: {show: false}
  }));
  const ybase = {type: 'value', gridIndex: i, min: 0, max: 200, interval: 50, splitLine: {show: false}, minorSplitLine: {show: false}};
  yAxes.push(Object.assign({}, ybase, {
    position: 'left',
    axisLine: {show: true, onZero: false, lineStyle: {color: AX, width: 1.6}},
    axisTick: {show: true, inside: true, length: 12, lineStyle: {color: AX, width: 1.3}},
    minorTick: {show: true, splitNumber: 5, length: 6, lineStyle: {color: AX, width: 1.1}},
    axisLabel: {show: true, margin: 6,
      formatter: v => v === 0 ? '{lo|0}' : (v === 200 ? '{hi|200}' : '{n|' + v + '}'),
      rich: {
        n: Object.assign({}, tickFont),
        lo: Object.assign({padding: [0, 0, 11, 0]}, tickFont),
        hi: Object.assign({padding: [11, 0, 0, 0]}, tickFont)
      }},
    name: '{m|HBHT}{s|1/2}{m|  (' + yAxisChannels[i] + ')}', nameLocation: 'middle', nameGap: 55,
    nameTextStyle: {rich: {
      m: {fontFamily: 'Liberation Sans', fontWeight: 'bold', fontSize: 20.5, lineHeight: 23, color: '#000'},
      s: {fontFamily: 'Liberation Sans', fontWeight: 'bold', fontSize: 10.5, lineHeight: 10, verticalAlign: 'top', color: '#000'}
    }}
  }));
  yAxes.push(Object.assign({}, ybase, {
    position: 'right',
    axisLine: {show: true, onZero: false, lineStyle: {color: AX, width: 1.6}},
    axisTick: {show: true, inside: true, length: 12, lineStyle: {color: AX, width: 1.3}},
    minorTick: {show: true, splitNumber: 5, length: 6, lineStyle: {color: AX, width: 1.1}},
    axisLabel: {show: false}
  }));
  series.push({
    type: 'scatter', xAxisIndex: 4 * i, yAxisIndex: 2 * i, data: panelPoints[i],
    symbol: 'circle', symbolSize: 3, itemStyle: {color: '#000'}, silent: true, z: 3
  });
  series.push({
    type: 'line', xAxisIndex: 4 * i, yAxisIndex: 2 * i,
    data: [[thresholdXRanges[i][0], thresholdValues[i]], [thresholdXRanges[i][1], thresholdValues[i]]],
    symbol: 'none', lineStyle: {color: '#ff2a00', width: 8, cap: 'butt'}, silent: true, z: 5, clip: false
  });
  graphics.push({
    type: 'text', x: g.left + 32, y: g.top + 49, z: 10,
    style: {text: panelLetters[i], font: 'bold 54px "Liberation Sans", Arial, sans-serif', fill: '#000', align: 'left', verticalAlign: 'middle'}
  });
  graphics.push({
    type: 'text', x: g.left + CHAN_OFF[i][0], y: g.top + CHAN_OFF[i][1], z: 10,
    style: {text: channelNames[i], font: 'bold 48px "Liberation Sans", Arial, sans-serif', fill: '#000', align: 'left', verticalAlign: 'middle'}
  });
});

// slide background tints
graphics.unshift(
  {type: 'rect', z: -10, shape: {x: 0, y: 0, width: 1480, height: 9},
   style: {fill: new echarts.graphic.LinearGradient(0, 0, 1, 0, [{offset: 0, color: '#e9f5fa'}, {offset: 1, color: '#c6e5f1'}])}},
  {type: 'rect', z: -10, shape: {x: 0, y: 0, width: 12, height: 600},
   style: {fill: new echarts.graphic.LinearGradient(0, 0, 0, 1, [{offset: 0, color: '#e3f1f8'}, {offset: 1, color: '#ffffff'}])}},
  {type: 'rect', z: -10, shape: {x: 1477, y: 0, width: 3, height: 600},
   style: {fill: '#d4ecf5'}}
);
notes.forEach((t, k) => {
  graphics.push({
    type: 'text', x: 828, y: 726 + k * 57.5, z: 10,
    style: {text: t, font: '48px "Liberation Sans", Arial, sans-serif', fill: '#000', align: 'left', verticalAlign: 'middle'}
  });
});

const chart = echarts.init(document.getElementById('c'), null, {renderer: 'canvas'});
chart.setOption({
  animation: false,
  backgroundColor: '#ffffff',
  grid: GRIDS.map(g => Object.assign({containLabel: false, outerBoundsMode: 'none'}, g)),
  xAxis: xAxes,
  yAxis: yAxes,
  series: series,
  graphic: graphics
});
</script>
</body></html>
